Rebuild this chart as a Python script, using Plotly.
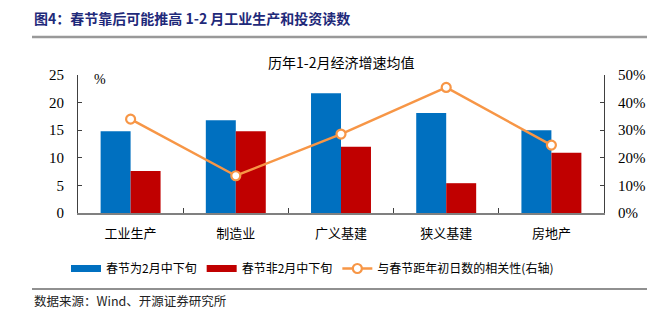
import plotly.graph_objects as go

categories = ["工业生产", "制造业", "广义基建", "狭义基建", "房地产"]
late_spring = [14.8, 16.8, 21.7, 18.1, 15.0]
early_spring = [7.6, 14.8, 12.0, 5.4, 10.9]
correlation = [0.34, 0.135, 0.286, 0.455, 0.246]
left_ticks = [0, 5, 10, 15, 20, 25]
right_ticks = [0, 0.1, 0.2, 0.3, 0.4, 0.5]

name_blue = "春节为2月中下旬"
name_red = "春节非2月中下旬"
name_line = "与春节距年初日数的相关性(右轴)"

BLUE = "#0070C0"
RED = "#C00000"
ORANGE = "#F79646"

W, H = 662, 321
L, R, T, B = 78, 58, 75, 108
PW, PH = W - L - R, H - T - B


def px_x(x):
    return (x - L) / PW


def px_y(y):
    return (H - B - y) / PH


CJK = "Noto Sans CJK SC"
SERIF = "Liberation Serif"

fig = go.Figure()
fig.add_trace(go.Bar(x=categories, y=late_spring, marker_color=BLUE, name=name_blue,
                     showlegend=False, marker_line_width=0))
fig.add_trace(go.Bar(x=categories, y=early_spring, marker_color=RED, name=name_red,
                     showlegend=False, marker_line_width=0))
fig.add_trace(go.Scatter(x=categories, y=correlation, yaxis="y2", mode="lines+markers",
                         line=dict(color=ORANGE, width=2.5),
                         marker=dict(symbol="circle", size=9, color="white",
                                     line=dict(color=ORANGE, width=2.2)),
                         name=name_line, showlegend=False))
# legend proxies
fig.add_trace(go.Scatter(x=[None], y=[None], mode="lines", line=dict(color=BLUE, width=7), name=name_blue))
fig.add_trace(go.Scatter(x=[None], y=[None], mode="lines", line=dict(color=RED, width=7), name=name_red))
fig.add_trace(go.Scatter(x=[None], y=[None], mode="lines+markers", yaxis="y2",
                         line=dict(color=ORANGE, width=2.5),
                         marker=dict(symbol="circle", size=9, color="white",
                                     line=dict(color=ORANGE, width=2.2)),
                         name=name_line))

axis_color = "#808080"
fig.update_layout(
    width=W, height=H,
    margin=dict(l=L, r=R, t=T, b=B, pad=0),
    paper_bgcolor="white", plot_bgcolor="white",
    barmode="group", bargap=0.43, bargroupgap=0,
    font=dict(family=CJK, size=13, color="black"),
    xaxis=dict(type="category", range=[-0.5, 4.5], showline=True, linecolor=axis_color, linewidth=1.5,
               ticks="inside", tickson="boundaries", ticklen=5, tickcolor="#404040",
               tickfont=dict(family=CJK, size=13, color="black"), ticklabelstandoff=8,
               showgrid=False, zeroline=False),
    yaxis=dict(range=[0, 25], tickvals=left_ticks, showline=True, linecolor="#404040", linewidth=1,
               ticks="inside", ticklen=4, tickcolor="#404040",
               tickfont=dict(family=SERIF, size=15, color="black"), ticklabelstandoff=10,
               showgrid=False, zeroline=False),
    yaxis2=dict(range=[0, 0.5], tickvals=right_ticks, tickformat=".0%", overlaying="y", side="right",
                showline=True, linecolor="#404040", linewidth=1,
                ticks="inside", ticklen=4, tickcolor="#404040",
                tickfont=dict(family=SERIF, size=15, color="black"), ticklabelstandoff=10,
                showgrid=False, zeroline=False),
    legend=dict(orientation="h", x=px_x(66), xanchor="left", y=px_y(254), yanchor="top",
                font=dict(family=CJK, size=12, color="black"), itemwidth=30,
                tracegroupgap=0, bgcolor="rgba(0,0,0,0)"),
    showlegend=True,
)

fig.add_annotation(text="图4：春节靠后可能推高 1-2 月工业生产和投资读数", xref="paper", yref="paper",
                   x=px_x(32), y=px_y(18), xanchor="left", yanchor="middle", showarrow=False,
                   font=dict(family=CJK, size=14, color="#1F2A7A", weight="bold"))
fig.add_annotation(text="历年1-2月经济增速均值", xref="paper", yref="paper",
                   x=px_x(341), y=px_y(62), xanchor="center", yanchor="middle", showarrow=False,
                   font=dict(family=CJK, size=14, color="black"))
fig.add_annotation(text="%", xref="paper", yref="paper",
                   x=px_x(100), y=px_y(79), xanchor="center", yanchor="middle", showarrow=False,
                   font=dict(family=SERIF, size=14, color="black"))
fig.add_annotation(text="数据来源：Wind、开源证券研究所", xref="paper", yref="paper",
                   x=px_x(32), y=px_y(300), xanchor="left", yanchor="middle", showarrow=False,
                   font=dict(family=CJK, size=12.5, color="#222222"))

fig.add_shape(type="line", xref="paper", yref="paper", x0=px_x(32), x1=px_x(647),
              y0=px_y(37), y1=px_y(37), line=dict(color="#999999", width=2.5))
fig.add_shape(type="line", xref="paper", yref="paper", x0=px_x(32), x1=px_x(647),
              y0=px_y(289), y1=px_y(289), line=dict(color="#222222", width=1.2))

fig.write_html("out.html")
